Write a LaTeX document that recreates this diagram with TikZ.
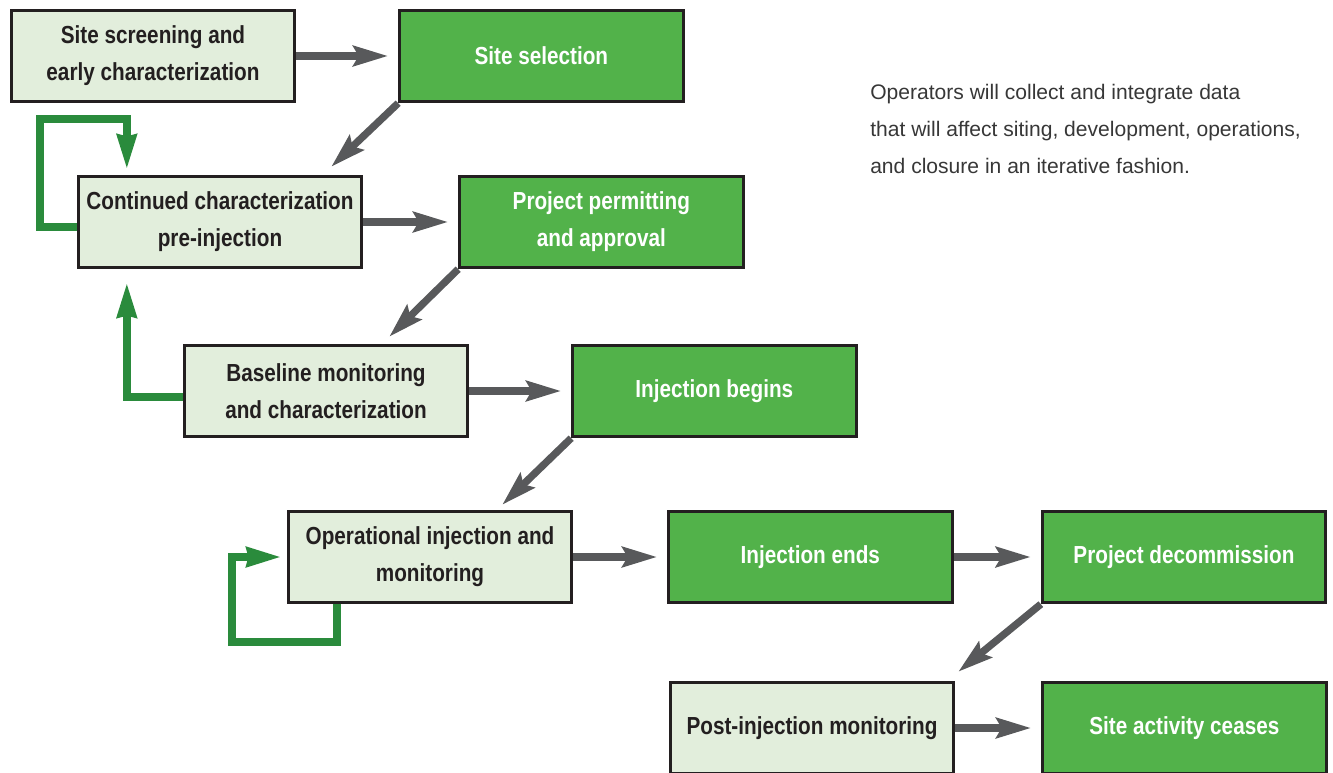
\documentclass[tikz,border=0pt]{standalone}
\usepackage{fontspec}
\setmainfont{Liberation Sans}
\newfontfamily\stagefont{Liberation Sans}[FakeStretch=0.84]
\usepackage{xcolor}
\usepackage{tikz}
\usetikzlibrary{arrows.meta}
\usetikzlibrary{positioning}

\definecolor{paleGreen}{RGB}{226,238,220}
\definecolor{siteGreen}{RGB}{82,178,74}
\definecolor{loopGreen}{RGB}{42,139,60}
\definecolor{arrowGray}{RGB}{88,89,91}
\definecolor{inkBlack}{RGB}{35,31,32}
\definecolor{noteGray}{RGB}{55,55,55}

\begin{document}
\begin{tikzpicture}[x=0.75pt, y=-0.75pt]
    \tikzstyle{stage}=[rectangle, draw=inkBlack, line width=2.25pt, minimum width=212.5pt, minimum height=68.5pt, inner sep=0pt, align=center, font=\stagefont\bfseries\fontsize{18.5pt}{27.75pt}\selectfont]
    \tikzstyle{pale}=[stage, fill=paleGreen, text=inkBlack]
    \tikzstyle{milestone}=[stage, fill=siteGreen, text=white]
    \tikzstyle{flow}=[-{Stealth[length=26pt, width=15pt, inset=4pt]}, draw=arrowGray, line width=5.5pt]
    \tikzstyle{feedback}=[-{Stealth[length=26pt, width=14pt, inset=1pt]}, draw=loopGreen, line width=6pt, line join=miter]

    \useasboundingbox (0,0) rectangle (1333,773);

    \node[pale] (screening) at (153,56) {Site screening and\\early characterization};
    \node[milestone] (selection) [right=76.5pt of screening] {Site selection};
    \node[pale] (continued) at (220,222) {Continued characterization\\pre-injection};
    \node[milestone] (permitting) [right=71.25pt of continued] {Project permitting\\and approval};
    \node[pale] (baseline) at (326,391) {Baseline monitoring\\and characterization};
    \node[milestone] (begins) [right=76.5pt of baseline] {Injection begins};
    \node[pale] (operational) at (430,557) {Operational injection and\\monitoring};
    \node[milestone] (ends) [right=70.5pt of operational] {Injection ends};
    \node[milestone] (decommission) [right=65.5pt of ends] {Project decommission};
    \node[pale] (post) at (812,728) {Post-injection monitoring};
    \node[milestone] (ceases) [right=64.5pt of post] {Site activity ceases};

    \node[anchor=west, align=left, inner sep=0pt, text=noteGray, font=\fontsize{15.8pt}{27.75pt}\selectfont] (note) at (870,129) {Operators will collect and integrate data\\that will affect siting, development, operations,\\and closure in an iterative fashion.};

    % forward steps
    \path[shorten >=7.5pt]
    (screening)   edge [flow] (selection)
    (continued)   edge [flow] (permitting)
    (baseline)    edge [flow] (baseline -| begins.west)
    (operational) edge [flow] (ends)
    (ends)        edge [flow] (decommission)
    (post)        edge [flow] (ceases);

    \path
    (selection.south west)    edge [flow] ([shift={(-32,-8)}]continued.north east)
    (permitting.south west)   edge [flow] ([shift={(-80,-7)}]baseline.north east)
    (begins.south west)       edge [flow] ([shift={(-71,-5)}]operational.north east)
    (decommission.south west) edge [flow] ([shift={(3,-9)}]post.north east);

    % iteration loops
    \draw[feedback, shorten >=3.75pt] ([yshift=-4pt]continued.west) -| (40,119) -| ([xshift=37.5pt]continued.north west);
    \draw[feedback, shorten >=9.75pt] ([yshift=-4.5pt]baseline.west) -| ([xshift=37.5pt]continued.south west);
    \draw[feedback, shorten >=3.75pt] ([xshift=37.5pt]operational.south west) |- (232,642) |- (operational.west);

\end{tikzpicture}
\end{document}
